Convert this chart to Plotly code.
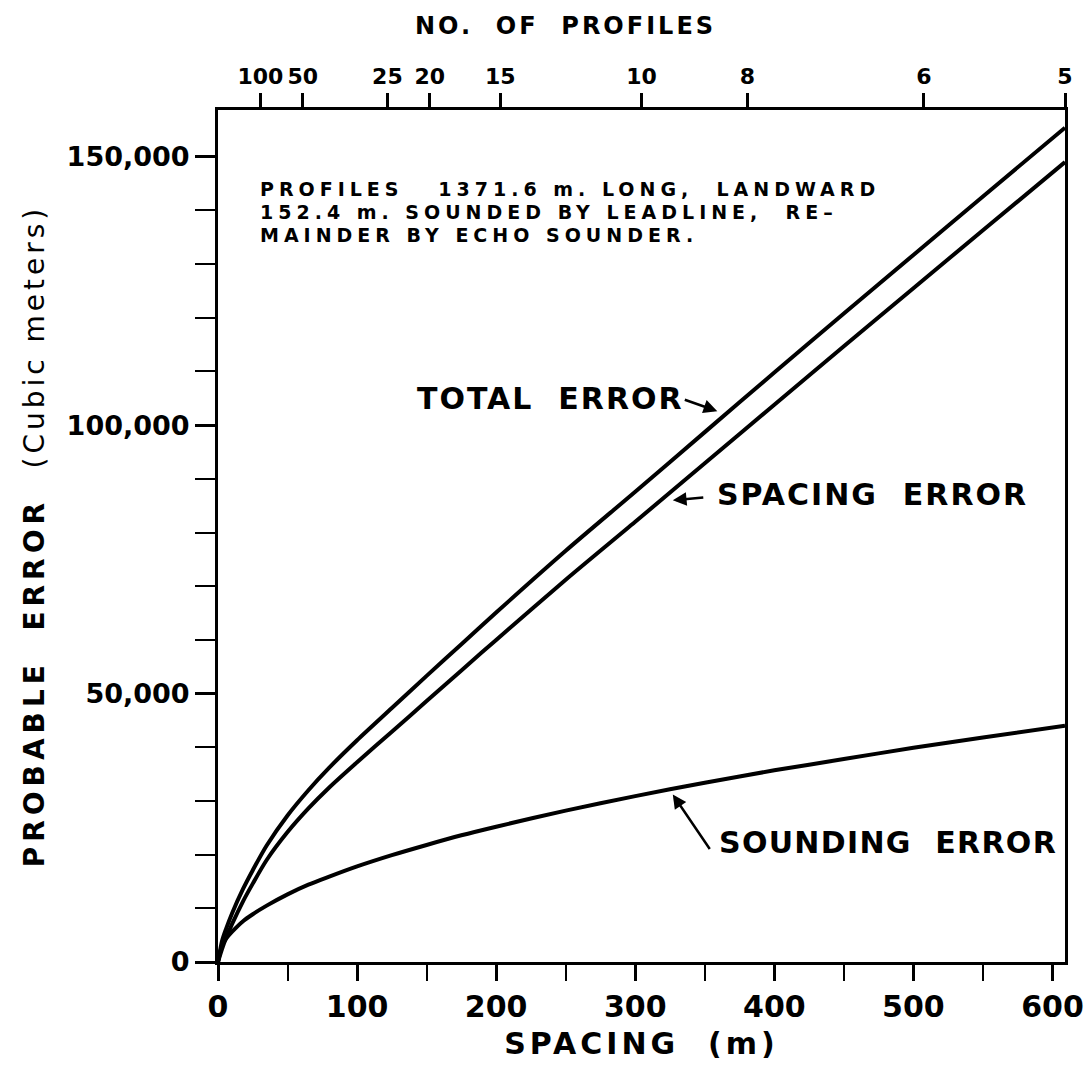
import plotly.graph_objects as go

# ---- data ----
spacing_m = [0, 3, 6, 10, 18, 25, 35, 50, 65, 80, 100, 125, 150, 175, 200, 250, 300, 350,
             400, 450, 500, 550, 609]
total_error = [0, 4000, 6300, 9000, 13600, 17100, 21700, 27300, 32000, 36200, 41300, 47300,
               53300, 59200, 65100, 76600, 87600, 98700, 109800, 120800, 131700, 142600, 155400]
spacing_error = [0, 2500, 4600, 7000, 11300, 14600, 19000, 24200, 28600, 32500, 37200, 42900,
                 48600, 54300, 60000, 71200, 82000, 92900, 103800, 114700, 125500, 136300, 149000]
sounding_error = [0, 3100, 4400, 5600, 7600, 8900, 10500, 12600, 14400, 15900, 17800, 19900,
                  21800, 23600, 25200, 28200, 30900, 33400, 35700, 37800, 39900, 41800, 44000]

profile_counts = [100, 50, 25, 20, 15, 10, 8, 6, 5]
shore_length_m = 3045  # spacing = shore length / number of profiles
profile_positions = [shore_length_m / n for n in profile_counts]
profile_labels = [str(n) for n in profile_counts]

x_ticks = [0, 100, 200, 300, 400, 500, 600]
y_ticks = [0, 50000, 100000, 150000]
y_tick_labels = ["0", "50,000", "100,000", "150,000"]

note_lines = ["PROFILES   1371.6 m. LONG,  LANDWARD",
              "152.4 m. SOUNDED BY LEADLINE,  RE\u2013",
              "MAINDER BY ECHO SOUNDER."]


def spaced(text, px):
    return f"<span style='letter-spacing:{px}px'>{text}</span>"


X_MAX = 609
Y_MAX = 158700
FONT = "DejaVu Sans"
line_style = dict(color="black", width=4, shape="spline", smoothing=0.8)

fig = go.Figure()
for name, ys in [("Total error", total_error), ("Spacing error", spacing_error),
                 ("Sounding error", sounding_error)]:
    fig.add_trace(go.Scatter(x=spacing_m, y=ys, mode="lines", name=name,
                             line=line_style, hoverinfo="x+y+name"))

# invisible trace so the top (no. of profiles) axis is drawn
fig.add_trace(go.Scatter(x=profile_positions, y=[0] * len(profile_positions), xaxis="x2",
                         mode="markers", marker=dict(opacity=0), hoverinfo="skip",
                         showlegend=False))

fig.update_layout(
    template="none",
    width=1085, height=1068,
    margin=dict(l=218, r=20, t=110, b=106, autoexpand=False),
    plot_bgcolor="white", paper_bgcolor="white",
    showlegend=False,
    font=dict(family=FONT, color="black"),
    xaxis=dict(
        range=[0, X_MAX], tickvals=x_ticks, ticks="outside", ticklen=16, tickwidth=2.5,
        tickcolor="black", showline=True, linecolor="black", linewidth=3, mirror=True,
        showgrid=False, zeroline=False, automargin=False, tickangle=0,
        minor=dict(dtick=50, ticks="outside", ticklen=16, tickwidth=2, tickcolor="black"),
        tickfont=dict(size=30, family=FONT, weight="bold"),
        title=dict(text=spaced("SPACING  (m)", 4), font=dict(size=30, family=FONT, weight="bold"),
                   standoff=10),
    ),
    xaxis2=dict(
        overlaying="x", side="top", range=[0, X_MAX], tickvals=profile_positions,
        ticktext=profile_labels, ticks="outside", ticklen=16, tickwidth=2.5, tickangle=0,
        tickcolor="black", showgrid=False, zeroline=False, showline=False, automargin=False,
        tickfont=dict(size=22, family=FONT, weight="bold"),
    ),
    yaxis=dict(
        range=[0, Y_MAX], tickvals=y_ticks, ticktext=y_tick_labels, ticks="outside",
        ticklen=20, tickwidth=2.5, tickcolor="black", showline=True, linecolor="black",
        linewidth=3, mirror=True, showgrid=False, zeroline=False, automargin=False,
        minor=dict(dtick=10000, ticks="outside", ticklen=20, tickwidth=2, tickcolor="black"),
        tickfont=dict(size=27, family=FONT, weight="bold"),
        title=dict(text=spaced("PROBABLE  ERROR  ", 5)
                   + "<span style='font-weight:normal;letter-spacing:4px'>(Cubic meters)</span>",
                   font=dict(size=28, family=FONT, weight="bold"), standoff=14),
    ),
)

# top axis title
fig.add_annotation(x=0.41, y=1.0, xref="paper", yref="paper", yshift=84,
                   xanchor="center", yanchor="middle", showarrow=False,
                   text=spaced("NO.  OF  PROFILES", 3),
                   font=dict(size=24, family=FONT, weight="bold"))

# note text
for i, line in enumerate(note_lines):
    fig.add_annotation(x=29, y=144000, yshift=-23 * i, xref="x", yref="y", xanchor="left",
                       yanchor="middle", showarrow=False, text=spaced(line, 5),
                       font=dict(size=19, family=FONT, weight="bold"))

label_font = dict(size=30, family=FONT, weight="bold")
fig.add_annotation(x=142, y=105000, xref="x", yref="y", xanchor="left", yanchor="middle",
                   showarrow=False, text=spaced("TOTAL  ERROR", 2), font=label_font)
fig.add_annotation(x=357, y=87000, xref="x", yref="y", xanchor="left", yanchor="middle",
                   showarrow=False, text=spaced("SPACING  ERROR", 2), font=label_font)
fig.add_annotation(x=359, y=22300, xref="x", yref="y", xanchor="left", yanchor="middle",
                   showarrow=False, text=spaced("SOUNDING  ERROR", 1.3), font=label_font)

arrow = dict(showarrow=True, arrowhead=2, arrowsize=1.1, arrowwidth=2.5, arrowcolor="black",
             text="", xref="x", yref="y", axref="pixel", ayref="pixel")
fig.add_annotation(x=359, y=102600, ax=-34, ay=-12, **arrow)
fig.add_annotation(x=327, y=86000, ax=32, ay=-3, **arrow)
fig.add_annotation(x=327, y=31200, ax=38, ay=56, **arrow)

fig.write_html("out.html")
